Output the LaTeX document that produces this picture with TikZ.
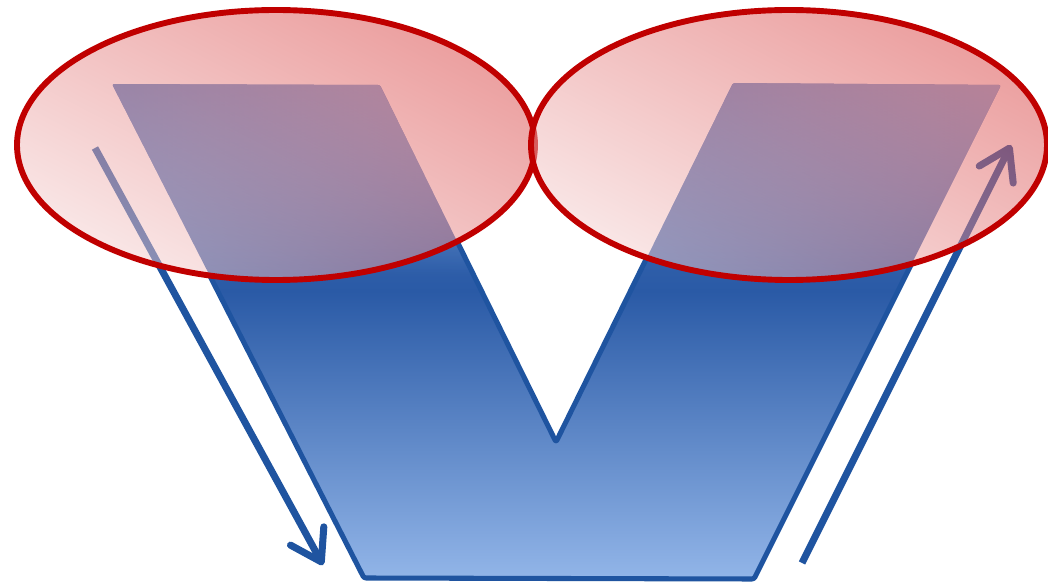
\documentclass[tikz,border=0pt]{standalone}
\usetikzlibrary{arrows.meta, fadings}

\definecolor{vTop}{RGB}{76,122,192}
\definecolor{vTopRight}{RGB}{152,192,234}
\definecolor{vDark}{RGB}{42,90,166}
\definecolor{vLight}{RGB}{146,181,232}
\definecolor{vEdge}{RGB}{31,84,160}
\definecolor{lobeEdge}{RGB}{192,0,0}
\definecolor{lobeDark}{RGB}{216,62,62}
\definecolor{lobeLight}{RGB}{244,208,208}

% vertical blend for the V body (the path fills 25bp--75bp)
\pgfdeclareverticalshading{vshade}{100bp}{color(0bp)=(vLight); color(25bp)=(vLight);
  color(54bp)=(vDark); color(75bp)=(vTop); color(100bp)=(vTop)}

\begin{document}
\begin{tikzpicture}[
    x=0.025cm, y=-0.025cm, % one unit = one pixel of the sketch
    >={Straight Barb[length=21pt, width=27pt, round]}, % Set default arrow tip style
    vbody/.style={shading=vshade, line join=round, rounded corners=1.5pt}, % Style for the V
    vsheen/.style={left color=vTop, right color=vTopRight, path fading=south}, % lighter top of each arm
    vline/.style={draw=vEdge, line width=3.6pt, line join=round, rounded corners=1.5pt}, % Outline of the V
    flow/.style={->, draw=vEdge, line width=5pt}, % Style for the side arrows
    lobe/.style={draw=lobeEdge, line width=4.2pt, top color=lobeDark, bottom color=lobeLight,
                 shading angle=-27.5, fill opacity=0.5} % Style for the ellipses
]

    \useasboundingbox (0,0) rectangle (1048,583);

    % --- Draw the V body first ---
    \def\vpath{(112,84) -- (380,85) -- (556,442) -- (733,83) -- (1001,85)
        -- (754,579) -- (364,578) -- cycle}
    \shade[vbody] \vpath;
    \begin{scope}
        \clip[rounded corners=1.5pt] \vpath;
        \shade[vsheen] (108,80) rectangle (470,275);
        \shade[vsheen] (640,80) rectangle (1005,275);
    \end{scope}
    \begin{scope}[even odd rule]
        % outline only shows outside the ellipses
        \clip (0,0) rectangle (1048,583)
            (276,145) ellipse [x radius=259, y radius=135]
            (789,145) ellipse [x radius=258, y radius=135];
        \draw[vline] \vpath;
    \end{scope}

    % --- Arrows down the left side and up the right side ---
    \coordinate (downStart) at (95,148);
    \coordinate (downEnd) at (323,565);
    \coordinate (upStart) at (802,563);
    \coordinate (upEnd) at (1011,145);
    \draw[flow] (downStart) -- (downEnd);
    \draw[flow] (upStart) -- (upEnd);

    % --- Ellipses over the two arms ---
    \shadedraw[lobe] (276,145) ellipse [x radius=259, y radius=135];
    \shadedraw[lobe] (789,145) ellipse [x radius=258, y radius=135];

\end{tikzpicture}
\end{document}
